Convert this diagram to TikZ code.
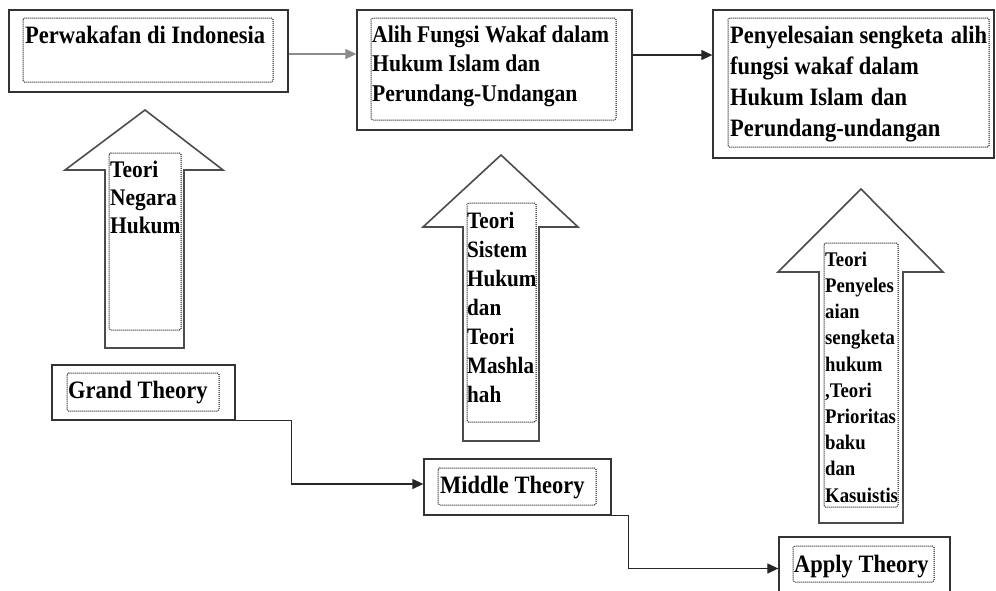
\documentclass[tikz,border=0pt]{standalone}
\usepackage{fontspec}
\newfontfamily\tnr[FakeStretch=0.9]{Liberation Serif}
\usetikzlibrary{arrows.meta}
\tikzset{
  outerbox/.style={draw=black!80, line width=1.3pt, inner sep=0pt, fill=none},
  innerbox/.style={draw=black, dash pattern=on 1pt off 1pt, line width=1pt, rounded corners=1.5pt, inner sep=0pt},
  blockarrow/.style={draw=black!70, line width=1.6pt, line join=miter, fill=white},
  txt/.style={inner sep=0pt, anchor=base west, align=left, text=black},
  bigfont/.style={font=\tnr\bfseries\fontsize{25}{30}\selectfont},
  conn/.style={line width=1.2pt, draw=black!85, -{Triangle[length=11pt,width=10pt]}},
}
\begin{document}
\begin{tikzpicture}[x=1pt,y=-1pt]
\useasboundingbox (0,0) rectangle (996,590);
\clip (0,0) rectangle (996,590);
\fill[white] (0,0) rectangle (996,590);

% block arrows
\draw[blockarrow] (145,110) -- (223,170) -- (184,170) -- (184,348) -- (105,348) -- (105,170) -- (65,170) -- cycle;
\draw[blockarrow] (501,155) -- (578,227) -- (539,227) -- (539,441) -- (463,441) -- (463,227) -- (423,227) -- cycle;
\draw[blockarrow] (861,189) -- (943,272) -- (903,272) -- (903,523) -- (819,523) -- (819,272) -- (778,272) -- cycle;

% top boxes
\node[outerbox, minimum width=279pt, minimum height=82pt] (b1) at (148.5,51) {};
\node[innerbox, minimum width=250pt, minimum height=64pt] (b1i) at (148,50) {};
\node[outerbox, minimum width=275pt, minimum height=120pt] (b2) at (494.5,70) {};
\node[innerbox, minimum width=245pt, minimum height=102pt] (b2i) at (493.5,69) {};
\node[outerbox, minimum width=281pt, minimum height=148pt] (b3) at (853.5,84) {};
\node[innerbox, minimum width=261pt, minimum height=129pt] (b3i) at (858.5,82.5) {};

% bottom boxes
\node[outerbox, minimum width=183pt, minimum height=55pt] (g) at (143.5,392.5) {};
\node[innerbox, minimum width=152pt, minimum height=38pt] (gi) at (143,392) {};
\node[outerbox, minimum width=187pt, minimum height=56pt] (m) at (517.5,487) {};
\node[innerbox, minimum width=158pt, minimum height=37pt] (mi) at (517,486.5) {};
\node[outerbox, minimum width=171pt, minimum height=63pt] (a) at (864.5,568.5) {};
\node[innerbox, minimum width=141pt, minimum height=36pt] (ai) at (863.5,564) {};

% arrow inner boxes
\node[innerbox, minimum width=72pt, minimum height=177pt] (a1i) at (145,241.5) {};
\node[innerbox, minimum width=69pt, minimum height=219pt] (a2i) at (501.5,312.5) {};
\node[innerbox, minimum width=74pt, minimum height=264pt] (a3i) at (861,375) {};

% texts (base anchor = baseline of last line)
\node[txt, bigfont] (t1) at (25,43) {Perwakafan di Indonesia};
\node[txt, font=\tnr\bfseries\fontsize{24}{29.5}\selectfont] (t2) at (372,101) {Alih Fungsi Wakaf dalam\\Hukum Islam dan\\Perundang-Undangan};
\node[txt, font=\tnr\bfseries\fontsize{25}{31}\selectfont] (t3) at (730,136) {Penyelesaian sengketa\hspace{2pt} alih\\fungsi wakaf dalam\\Hukum Islam\hspace{2pt} dan\\Perundang-undangan};
\node[txt, font=\tnr\bfseries\fontsize{23.8}{28}\selectfont] (t4) at (110,233) {Teori\\Negara\\Hukum};
\node[txt, font=\tnr\bfseries\fontsize{23.5}{29}\selectfont] (t5) at (467,402) {Teori\\Sistem\\Hukum\\dan\\Teori\\Mashla\\hah};
\node[txt, font=\tnr\bfseries\fontsize{20.8}{26.2}\selectfont] (t6) at (825,502) {Teori\\Penyeles\\aian\\sengketa\\hukum\\,Teori\\Prioritas\\baku\\dan\\Kasuistis};
\node[txt, bigfont] (t7) at (68,398) {Grand Theory};
\node[txt, bigfont] (t8) at (440,493) {Middle Theory};
\node[txt, bigfont] (t9) at (794,572) {Apply Theory};

% connectors
\draw[conn, draw=black!45] ([yshift=-3pt]b1.east) -- ([yshift=-3pt]b1.east -| b2.west);
\draw[conn] ([yshift=15pt]b2.east) -- ([yshift=15pt]b2.east -| b3.west);
\draw[conn] (g.south east) -- ++(56,0) |- ([yshift=3pt]m.west);
\draw[conn] (m.south east) -- ++(17,0) |- (a.west);
\end{tikzpicture}
\end{document}
